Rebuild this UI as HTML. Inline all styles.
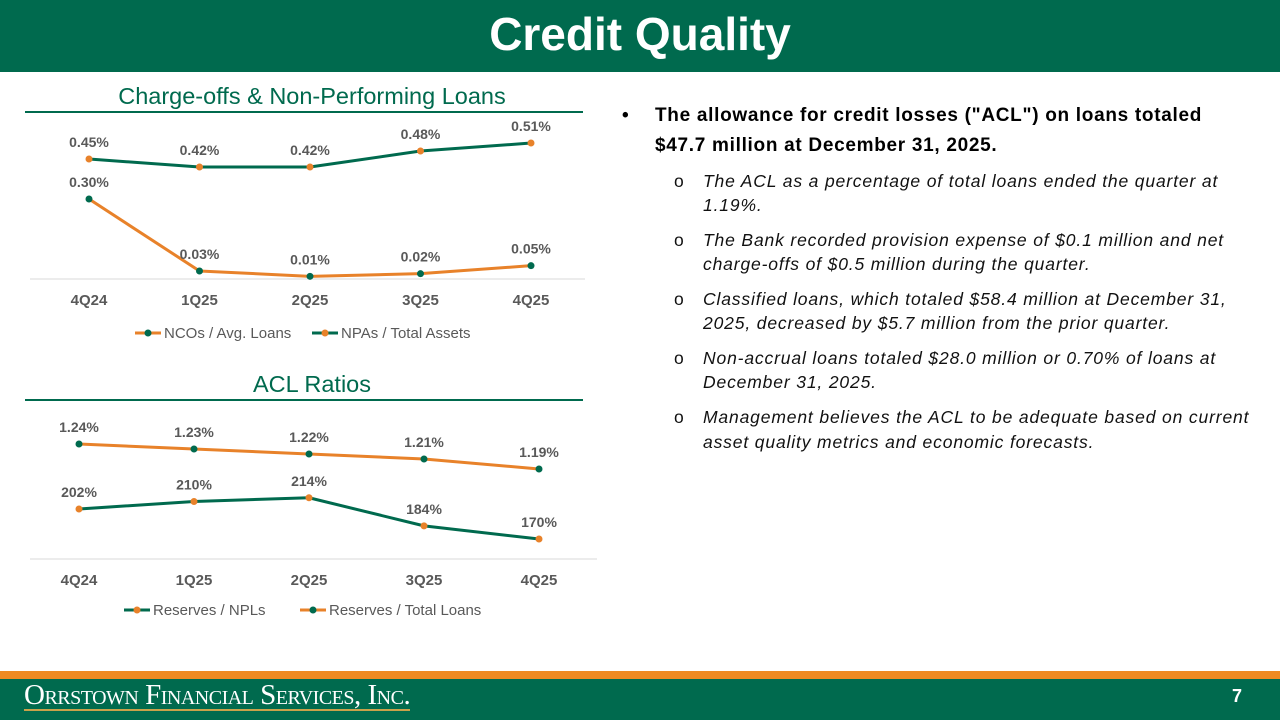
<!DOCTYPE html>
<html><head><meta charset="utf-8"><style>
body{margin:0;width:1280px;height:720px;position:relative;overflow:hidden;background:#fff;font-family:"Liberation Sans",sans-serif}
.abs{position:absolute;white-space:nowrap}
.b{font-weight:bold;font-size:19px;color:#000;letter-spacing:0.7px}
.i{font-style:italic;font-size:17.5px;color:#111;letter-spacing:0.85px}
</style></head><body>
<div style="position:absolute;left:0;top:0;width:1280px;height:72px;background:#006a4e"></div>
<div class="abs" style="left:0;width:1280px;top:7px;text-align:center;color:#fff;font-weight:bold;font-size:46px">Credit Quality</div>

<svg id="charts" width="600" height="640" style="position:absolute;left:0;top:72px" viewBox="0 72 600 640"></svg>

<div>
<div class="abs b" style="left:622px;top:105px">•</div>
<div class="abs b" style="left:655px;top:105px">The allowance for credit losses ("ACL") on loans totaled</div>
<div class="abs b" style="left:655px;top:135px">$47.7 million at December 31, 2025.</div>
<div class="abs i" style="left:674px;top:171px;font-style:normal">o</div><div class="abs i" style="left:703px;top:171px">The ACL as a percentage of total loans ended the quarter at</div>
<div class="abs i" style="left:703px;top:195px">1.19%.</div>
<div class="abs i" style="left:674px;top:230px;font-style:normal">o</div><div class="abs i" style="left:703px;top:230px">The Bank recorded provision expense of $0.1 million and net</div>
<div class="abs i" style="left:703px;top:254px">charge-offs of $0.5 million during the quarter.</div>
<div class="abs i" style="left:674px;top:289px;font-style:normal">o</div><div class="abs i" style="left:703px;top:289px">Classified loans, which totaled $58.4 million at December 31,</div>
<div class="abs i" style="left:703px;top:313px">2025, decreased by $5.7 million from the prior quarter.</div>
<div class="abs i" style="left:674px;top:348px;font-style:normal">o</div><div class="abs i" style="left:703px;top:348px">Non-accrual loans totaled $28.0 million or 0.70% of loans at</div>
<div class="abs i" style="left:703px;top:372px">December 31, 2025.</div>
<div class="abs i" style="left:674px;top:407px;font-style:normal">o</div><div class="abs i" style="left:703px;top:407px">Management believes the ACL to be adequate based on current</div>
<div class="abs i" style="left:703px;top:432px">asset quality metrics and economic forecasts.</div>
</div>

<div style="position:absolute;left:0;top:671px;width:1280px;height:8px;background:#ef8a22"></div>
<div style="position:absolute;left:0;top:679px;width:1280px;height:41px;background:#006a4e"></div>
<div class="abs" style="left:24px;top:681px;color:#fff;font-family:'Liberation Serif',serif;font-size:29px;font-variant:small-caps;letter-spacing:-0.5px;border-bottom:2px solid #c9a24a;line-height:28px">Orrstown Financial Services, Inc.</div>
<div class="abs" style="left:1232px;top:686px;color:#fff;font-weight:bold;font-size:18px">7</div>

<script>
const quarters=["4Q24","1Q25","2Q25","3Q25","4Q25"];
const ncoValues=[0.30,0.03,0.01,0.02,0.05];
const npaValues=[0.45,0.42,0.42,0.48,0.51];
const aclValues=[1.24,1.23,1.22,1.21,1.19];
const nplValues=[202,210,214,184,170];

const G="#006a4e",O="#e8822a";
const svg=document.getElementById('charts');
const NS="http://www.w3.org/2000/svg";
function el(tag,attrs,parent,text){const e=document.createElementNS(NS,tag);for(const k in attrs)e.setAttribute(k,attrs[k]);if(text!==undefined)e.textContent=text;(parent||svg).appendChild(e);return e;}
function lin(d0,d1,r0,r1){return v=>r0+(v-d0)*(r1-r0)/(d1-d0);}

const x1=i=>89+i*110.5;
const y1=lin(0,0.5,279,145.7);
const x2=i=>79+i*115;
const yAcl=lin(1.0,1.3,564,414);
const yNpl=lin(150,250,557.75,464);

function title(txt,y,name){
  const t=el('text',{x:312,y:y,'text-anchor':'middle','font-size':23.5,fill:G},svg,txt);
  
  
  const l=el('line',{x1:25,x2:583,y1:y+8,y2:y+8,stroke:G,'stroke-width':2});
  
  
}
function series(vals,xf,yf,lineC,dotC,fmt,name){
  const pts=vals.map((v,i)=>xf(i)+','+yf(v)).join(' ');
  const p=el('polyline',{points:pts,fill:'none',stroke:lineC,'stroke-width':3,'stroke-linejoin':'round'});
  
  
  vals.forEach((v,i)=>{
    const c=el('circle',{cx:xf(i),cy:yf(v),r:3.5,fill:dotC});
    
    
    const t=el('text',{x:xf(i),y:yf(v)-12,'text-anchor':'middle','font-size':14,'font-weight':'bold',fill:'#595959'},svg,fmt(v));
    
    
  });
}
function axis(y,xf,x0,xEnd,name){
  const a=el('line',{x1:x0,x2:xEnd,y1:y,y2:y,stroke:'#d9d9d9','stroke-width':1});
  
  
  quarters.forEach((q,i)=>{
    const t=el('text',{x:xf(i),y:y+26,'text-anchor':'middle','font-size':15,'font-weight':'bold',fill:'#595959'},svg,q);
    
    
  });
}
function legend(x,y,lineC,dotC,txt){
  const g=el('g',{});
  
  
  el('line',{x1:x,x2:x+26,y1:y,y2:y,stroke:lineC,'stroke-width':3},g);
  el('circle',{cx:x+13,cy:y,r:3.5,fill:dotC},g);
  el('text',{x:x+29,y:y+5,'font-size':15,fill:'#595959'},g,txt);
}

title("Charge-offs & Non-Performing Loans",104,"chart1-title");
axis(279,x1,30,585,"chart1-x-axis");
const f2=v=>v.toFixed(2)+'%';
series(npaValues,x1,y1,G,O,f2,"npa");
series(ncoValues,x1,y1,O,G,f2,"nco");
legend(135,333,O,G,"NCOs / Avg. Loans");
legend(312,333,G,O,"NPAs /  Total Assets");

title("ACL Ratios",392,"chart2-title");
axis(559,x2,30,597,"chart2-x-axis");
series(aclValues,x2,yAcl,O,G,f2,"acl");
series(nplValues,x2,yNpl,G,O,v=>Math.round(v)+'%',"npl");
legend(124,610,G,O,"Reserves / NPLs");
legend(300,610,O,G,"Reserves / Total Loans");
</script>
</body></html>
